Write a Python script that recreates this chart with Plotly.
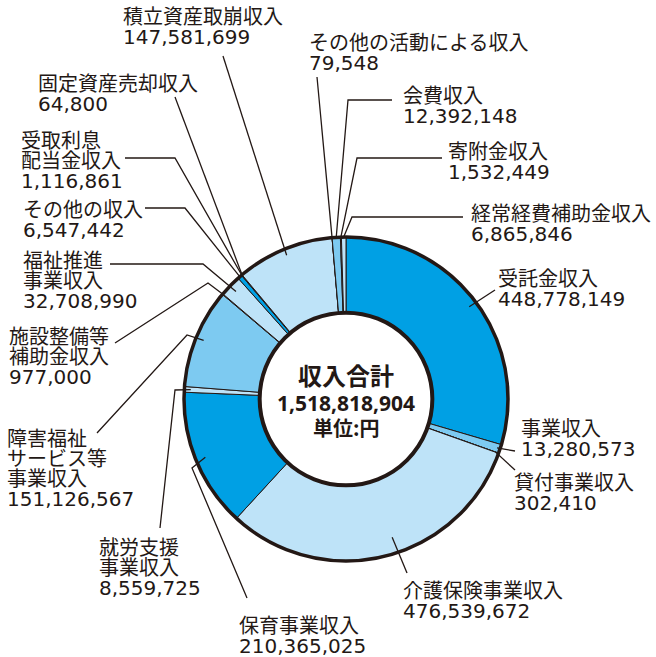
import math
import plotly.graph_objects as go

W, H = 656, 657

# ---------------- data ----------------
categories = [
    "受託金収入", "事業収入", "貸付事業収入", "介護保険事業収入", "保育事業収入",
    "就労支援事業収入", "障害福祉サービス等事業収入", "施設整備等補助金収入",
    "福祉推進事業収入", "その他の収入", "受取利息配当金収入", "固定資産売却収入",
    "積立資産取崩収入", "その他の活動による収入", "会費収入", "寄附金収入",
    "経常経費補助金収入",
]
values = [
    448778149, 13280573, 302410, 476539672, 210365025,
    8559725, 151126567, 977000,
    32708990, 6547442, 1116861, 64800,
    147581699, 79548, 12392148, 1532449,
    6865846,
]
# how each category name is broken into lines on the chart
name_lines = [
    ["受託金収入"], ["事業収入"], ["貸付事業収入"], ["介護保険事業収入"], ["保育事業収入"],
    ["就労支援", "事業収入"], ["障害福祉", "サービス等", "事業収入"], ["施設整備等", "補助金収入"],
    ["福祉推進", "事業収入"], ["その他の収入"], ["受取利息", "配当金収入"], ["固定資産売却収入"],
    ["積立資産取崩収入"], ["その他の活動による収入"], ["会費収入"], ["寄附金収入"],
    ["経常経費補助金収入"],
]
center_title = "収入合計"
center_unit = "単位:円"

# ---------------- style ----------------
DARK, MED, LIGHT = "#00A0E4", "#7DCAF1", "#BEE3F8"
INK = "#231815"
slice_colors = [
    DARK, MED, LIGHT, LIGHT, DARK,
    LIGHT, MED, LIGHT,
    LIGHT, DARK, LIGHT, LIGHT,
    LIGHT, LIGHT, MED, LIGHT,
    LIGHT,
]

CX, CY, R = 346, 399, 162
HOLE = 0.533

# label layout: (text x, first line y, leader polyline points, fraction in slice, radius factor)
layout_spec = [
    (497, 279, [(495, 290)], 0.5, 0.95),
    (520, 429, [(515, 451)], 0.5, 0.98),
    (513, 483, [(515, 470)], 0.5, 0.98),
    (402, 591, [(407, 573)], 0.46, 0.90),
    (238, 626, [(247, 598), (192, 468)], 0.5, 0.94),
    (98, 548, [(160, 528), (175, 390)], 0.5, 0.96),
    (6, 439, [(97, 433), (187, 335)], 0.5, 0.95),
    (8, 337, [(115, 343), (208, 283)], 0.5, 1.0),
    (22, 261, [(110, 264), (203, 264)], 0.5, 0.95),
    (22, 210, [(145, 208), (185, 208)], 0.5, 1.0),
    (20, 141, [(125, 158), (175, 158)], 0.5, 1.0),
    (37, 84, [(175, 97)], 0.5, 1.0),
    (122, 17, [(223, 56)], 0.5, 0.96),
    (308, 43, [(317, 77)], 0.5, 1.0),
    (402, 96, [(392, 100), (348, 100)], 0.5, 1.0),
    (447, 152, [(442, 158), (357, 158)], 0.5, 1.0),
    (470, 214, [(463, 217), (352, 217)], 0.5, 1.0),
]
PITCH = 20
LABEL_FONT = dict(family="DejaVu Sans, Noto Sans CJK JP, sans-serif", size=20, color=INK)


def px(x):
    return x / W


def py(y):
    return 1 - y / H


total = sum(values)

fig = go.Figure()
fig.add_trace(go.Pie(
    labels=categories,
    values=values,
    sort=False,
    direction="clockwise",
    rotation=0,
    hole=HOLE,
    textinfo="none",
    hoverinfo="label+value",
    marker=dict(colors=slice_colors, line=dict(color=INK, width=1)),
    domain=dict(x=[px(CX - R), px(CX + R)], y=[py(CY + R), py(CY - R)]),
    showlegend=False,
))

shapes = []
annotations = []

cum = 0
for i, v in enumerate(values):
    tx, ty, pts, frac, rf = layout_spec[i]
    theta = math.radians((cum + frac * v) / total * 360)
    ex = CX + R * rf * math.sin(theta)
    ey = CY - R * rf * math.cos(theta)
    cum += v
    all_pts = pts + [(ex, ey)]
    path = "M " + " L ".join(f"{px(a):.5f},{py(b):.5f}" for a, b in all_pts)
    shapes.append(dict(type="path", xref="paper", yref="paper", path=path,
                       line=dict(color=INK, width=1.3), layer="above"))
    lines = name_lines[i] + [f"{v:,}"]
    for k, t in enumerate(lines):
        annotations.append(dict(
            x=px(tx), y=py(ty + k * PITCH), xref="paper", yref="paper",
            text=t, showarrow=False, xanchor="left", yanchor="middle",
            borderpad=0, font=LABEL_FONT,
        ))

# ring outlines
shapes.append(dict(type="circle", xref="paper", yref="paper",
                   x0=px(CX - R), x1=px(CX + R), y0=py(CY + R), y1=py(CY - R),
                   line=dict(color=INK, width=3.5), layer="above"))
r_in = R * HOLE
shapes.append(dict(type="circle", xref="paper", yref="paper",
                   x0=px(CX - r_in), x1=px(CX + r_in), y0=py(CY + r_in), y1=py(CY - r_in),
                   line=dict(color=INK, width=4), layer="above"))

# centre text
annotations.append(dict(x=px(CX), y=py(374), xref="paper", yref="paper", text=f"<b>{center_title}</b>",
                        showarrow=False, xanchor="center", yanchor="middle",
                        font=dict(family="Noto Sans CJK JP, sans-serif", size=24, color=INK)))
annotations.append(dict(x=px(CX), y=py(403), xref="paper", yref="paper", text=f"<b>{total:,}</b>",
                        showarrow=False, xanchor="center", yanchor="middle",
                        font=dict(family="Noto Sans, Noto Sans CJK JP, sans-serif", size=21, color=INK)))
annotations.append(dict(x=px(CX), y=py(427), xref="paper", yref="paper", text=f"<b>{center_unit}</b>",
                        showarrow=False, xanchor="center", yanchor="middle",
                        font=dict(family="Noto Sans CJK JP, sans-serif", size=20, color=INK)))

fig.update_layout(
    width=W, height=H,
    margin=dict(l=0, r=0, t=0, b=0),
    paper_bgcolor="white", plot_bgcolor="white",
    shapes=shapes, annotations=annotations,
)

fig.write_html("out.html")
